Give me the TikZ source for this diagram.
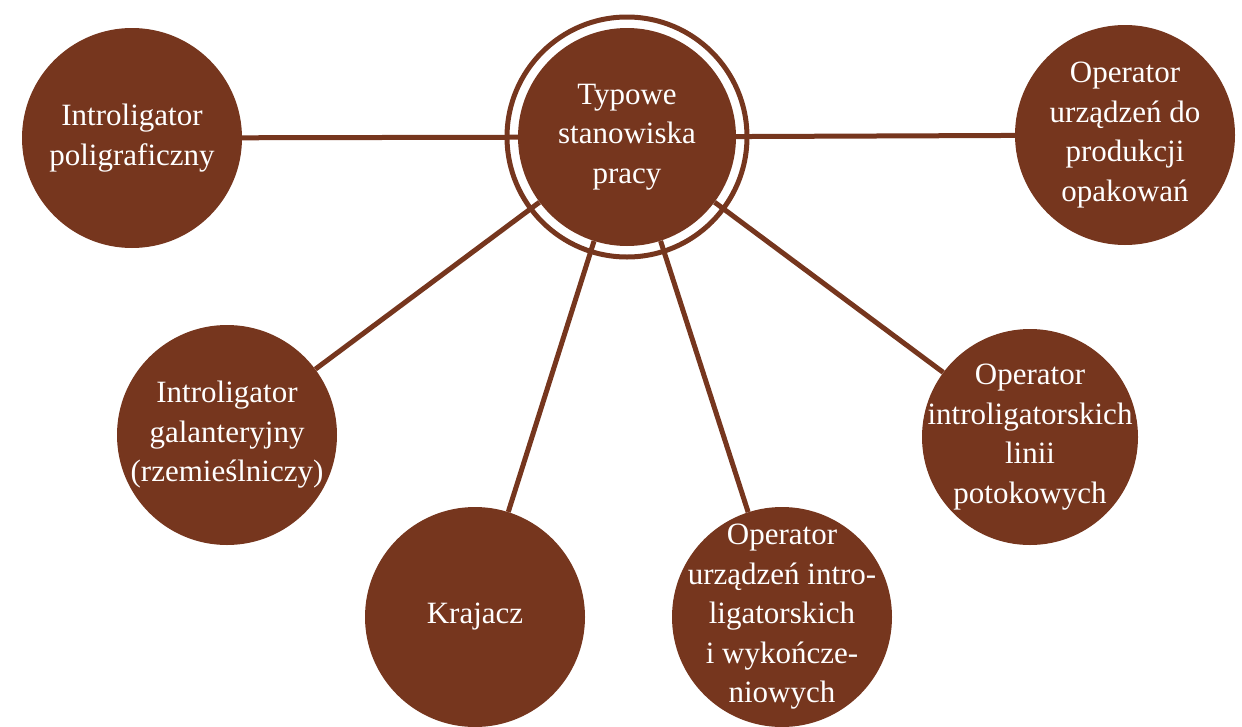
\documentclass[tikz,border=0pt]{standalone}
\usepackage{fontspec}
\setmainfont{Liberation Serif}
\definecolor{brn}{RGB}{118,54,30}
\begin{document}
\begin{tikzpicture}[x=1pt,y=-1pt,
  disc/.style={circle,fill=brn,draw=none,minimum size=220pt,inner sep=0pt},
  lbl/.style={text=white,align=center,font=\fontsize{31}{39.5}\selectfont},
  conn/.style={draw=brn,line width=5pt}]
\useasboundingbox (0,0) rectangle (1242,726);
% ring round the centre
\draw[brn,line width=5pt] (627,137) circle[radius=120];
% discs
\node[disc,minimum size=218pt] (C) at (627,137) {};
\node[disc] (A) at (132,138) {};
\node[disc] (B) at (1125,135) {};
\node[disc] (D) at (227,435) {};
\node[disc] (E) at (475,617) {};
\node[disc] (F) at (782,617) {};
\node[disc,minimum size=216pt] (G) at (1030,437) {};
% connectors
\draw[conn] (C) -- (A);
\draw[conn] (C) -- (B);
\draw[conn] (C) -- (D);
\draw[conn] (C) -- (E);
\draw[conn] (C) -- (F);
\draw[conn] (C) -- (G);
% labels
\node[lbl] (tC) at (C) {Typowe\\stanowiska\\pracy};
\node[lbl] (tA) at (A) {Introligator\\poligraficzny};
\node[lbl] (tB) at (B) {Operator\\urządzeń do\\produkcji\\opakowań};
\node[lbl] (tD) at (D) {Introligator\\galanteryjny\\(rzemieślniczy)};
\node[lbl] (tE) at (E) {Krajacz};
\node[lbl] (tF) at (F) {Operator\\urządzeń intro-\\ligatorskich\\i wykończe-\\niowych};
\node[lbl] (tG) at (G) {Operator\\introligatorskich\\linii\\potokowych};
\end{tikzpicture}
\end{document}
